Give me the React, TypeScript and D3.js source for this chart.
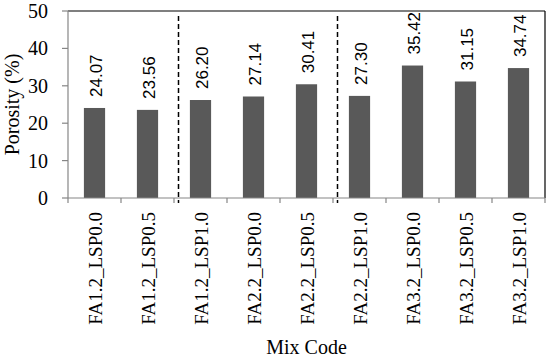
import React, { useRef, useEffect } from 'react';
import * as d3 from 'd3';

const categories = [
  'FA1.2_LSP0.0', 'FA1.2_LSP0.5', 'FA1.2_LSP1.0',
  'FA2.2_LSP0.0', 'FA2.2_LSP0.5', 'FA2.2_LSP1.0',
  'FA3.2_LSP0.0', 'FA3.2_LSP0.5', 'FA3.2_LSP1.0',
];
const porosity = [24.07, 23.56, 26.2, 27.14, 30.41, 27.3, 35.42, 31.15, 34.74];
const yTicks = [0, 10, 20, 30, 40, 50];
// dashed separators drawn after these category indices
const separators = [1, 4];

const width = 550;
const height = 359;

const App: React.FC = () => {
  const ref = useRef<SVGSVGElement | null>(null);

  useEffect(() => {
    if (!ref.current) return;
    const svg = d3.select(ref.current);
    svg.selectAll('*').remove();

    const margin = { top: 11, right: 5, bottom: 161, left: 68 };
    const innerWidth = width - margin.left - margin.right;
    const innerHeight = height - margin.top - margin.bottom;

    const x = d3.scaleBand()
      .domain(categories)
      .range([0, innerWidth])
      .paddingInner(0.6)
      .paddingOuter(0.3);

    const y = d3.scaleLinear().domain([0, 50]).range([innerHeight, 0]);

    const g = svg.append('g')
      .attr('transform', `translate(${margin.left},${margin.top})`);

    const axisColor = '#868686';
    const serif = '"Liberation Serif", serif';

    // bars
    g.selectAll('.bar')
      .data(porosity)
      .enter().append('rect')
      .attr('x', (d, i) => x(categories[i]) || 0)
      .attr('y', d => y(d))
      .attr('width', x.bandwidth())
      .attr('height', d => innerHeight - y(d))
      .attr('fill', '#595959');

    // value labels
    g.selectAll('.val')
      .data(porosity)
      .enter().append('text')
      .attr('transform', (d, i) =>
        `translate(${(x(categories[i]) || 0) + x.bandwidth() / 2 + 2},${y(d) - 11}) rotate(-90)`)
      .attr('dominant-baseline', 'central')
      .attr('font-family', '"Liberation Sans", sans-serif')
      .attr('font-size', 17)
      .attr('fill', '#000')
      .text(d => d.toFixed(2));

    // frame: top and right black
    g.append('line').attr('x1', 0).attr('x2', innerWidth).attr('y1', 0).attr('y2', 0)
      .attr('stroke', '#000').attr('stroke-width', 1.2);
    g.append('line').attr('x1', innerWidth).attr('x2', innerWidth).attr('y1', 0).attr('y2', innerHeight)
      .attr('stroke', '#000').attr('stroke-width', 1.2);

    // left axis
    g.append('line').attr('x1', 0).attr('x2', 0).attr('y1', 0).attr('y2', innerHeight)
      .attr('stroke', axisColor).attr('stroke-width', 1.2);
    yTicks.forEach(t => {
      g.append('line').attr('x1', -6).attr('x2', 0).attr('y1', y(t)).attr('y2', y(t))
        .attr('stroke', axisColor).attr('stroke-width', 1.2);
      g.append('text')
        .attr('x', -20).attr('y', y(t))
        .attr('text-anchor', 'end')
        .attr('dominant-baseline', 'central')
        .attr('font-family', serif)
        .attr('font-size', 20)
        .text(t);
    });

    // bottom axis
    g.append('line').attr('x1', 0).attr('x2', innerWidth).attr('y1', innerHeight).attr('y2', innerHeight)
      .attr('stroke', axisColor).attr('stroke-width', 1.2);
    d3.range(categories.length + 1).forEach(i => {
      const tx = i * x.step();
      g.append('line').attr('x1', tx).attr('x2', tx).attr('y1', innerHeight).attr('y2', innerHeight + 5)
        .attr('stroke', axisColor).attr('stroke-width', 1.2);
    });

    categories.forEach(c => {
      g.append('text')
        .attr('transform', `translate(${(x(c) || 0) + x.bandwidth() / 2 + 1},${innerHeight + 14}) rotate(-90)`)
        .attr('text-anchor', 'end')
        .attr('dominant-baseline', 'central')
        .attr('font-family', serif)
        .attr('font-size', 19)
        .text(c);
    });

    // dashed separators
    separators.forEach(i => {
      const sx = (i + 1) * x.step() + 4.5;
      g.append('line').attr('x1', sx).attr('x2', sx).attr('y1', 5).attr('y2', innerHeight + 5)
        .attr('stroke', '#000').attr('stroke-width', 1.5).attr('stroke-dasharray', '5,3');
    });

    // axis titles
    g.append('text')
      .attr('transform', `translate(-56,${innerHeight / 2}) rotate(-90)`)
      .attr('text-anchor', 'middle')
      .attr('dominant-baseline', 'central')
      .attr('font-family', serif)
      .attr('font-size', 20)
      .text('Porosity (%)');

    g.append('text')
      .attr('x', innerWidth / 2).attr('y', innerHeight + 156)
      .attr('text-anchor', 'middle')
      .attr('font-family', serif)
      .attr('font-size', 20)
      .text('Mix Code');
  }, []);

  return (
    <svg ref={ref} width={width} height={height}
      style={{ position: 'absolute', left: 0, top: 0, background: '#fff' }} />
  );
};

export default App;
